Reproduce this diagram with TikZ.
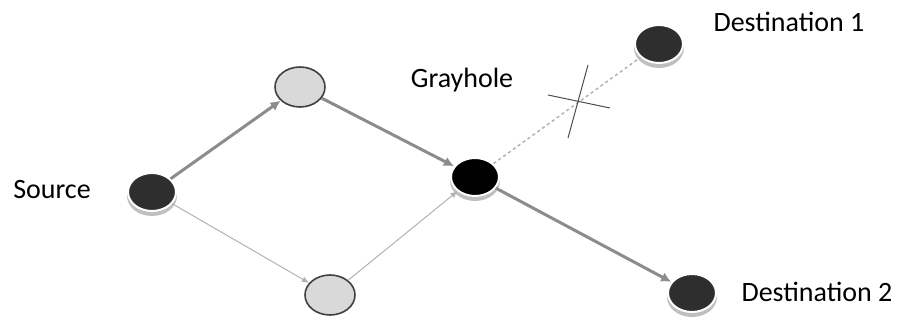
\documentclass[tikz,border=0pt]{standalone}
\usepackage{fontspec}
\setmainfont{Carlito}
\usetikzlibrary{arrows.meta,shapes.geometric}
\begin{document}
\begin{tikzpicture}[x=1pt,y=1pt,
  darknode/.style={ellipse,minimum width=48pt,minimum height=38pt,inner sep=0pt,fill=black!82,draw=white,line width=2pt},
  holenode/.style={ellipse,minimum width=48pt,minimum height=38pt,inner sep=0pt,fill=black,draw=white,line width=2pt},
  graynode/.style={ellipse,minimum width=50pt,minimum height=40pt,inner sep=0pt,fill=black!15,draw=black!75,line width=1.6pt},
  shadowe/.style={ellipse,minimum width=50pt,minimum height=40pt,inner sep=0pt,fill=black!25},
  thickarrow/.style={draw=black!45,line width=3pt,-{Latex[length=10pt,width=10pt]}},
  thinarrow/.style={draw=black!30,line width=1pt,-{Latex[length=7pt,width=6pt]}},
  lbl/.style={font=\fontsize{28}{32}\selectfont,inner sep=0pt}]
\useasboundingbox (0,0) rectangle (911,-320);
% shadows
\node[shadowe] (s1) at (152,-196) {};
\node[shadowe] (s2) at (475,-181) {};
\node[shadowe] (s3) at (659,-48) {};
\node[shadowe] (s4) at (692,-297) {};
% nodes
\node[darknode] (src) at (152,-192) {};
\node[graynode] (top) at (300,-87) {};
\node[graynode] (bot) at (330,-295) {};
\node[holenode] (gh) at (475,-177) {};
\node[darknode] (d1) at (659,-44) {};
\node[darknode] (d2) at (692,-293) {};
% edges
\draw[thickarrow] (src) -- (top);
\draw[thinarrow] (src) -- (bot);
\draw[thickarrow] (top) -- (gh);
\draw[thinarrow] (bot) -- (gh);
\draw[thickarrow] (gh) -- (d2);
\draw[draw=black!30,line width=1.5pt,dashed] (gh) -- (d1);
% cross
\coordinate (xa) at (548,-95);
\coordinate (xb) at (610,-108);
\coordinate (xc) at (588,-65);
\coordinate (xd) at (568,-138);
\draw[black!70,line width=1pt] (xa) -- (xb);
\draw[black!70,line width=1pt] (xc) -- (xd);
% labels
\node[lbl] (lsrc) at (52,-190) {Source};
\node[lbl] (lgh) at (462,-80) {Grayhole};
\node[lbl] (ld1) at (789,-22) {Destination 1};
\node[lbl] (ld2) at (817,-292) {Destination 2};
\end{tikzpicture}
\end{document}
